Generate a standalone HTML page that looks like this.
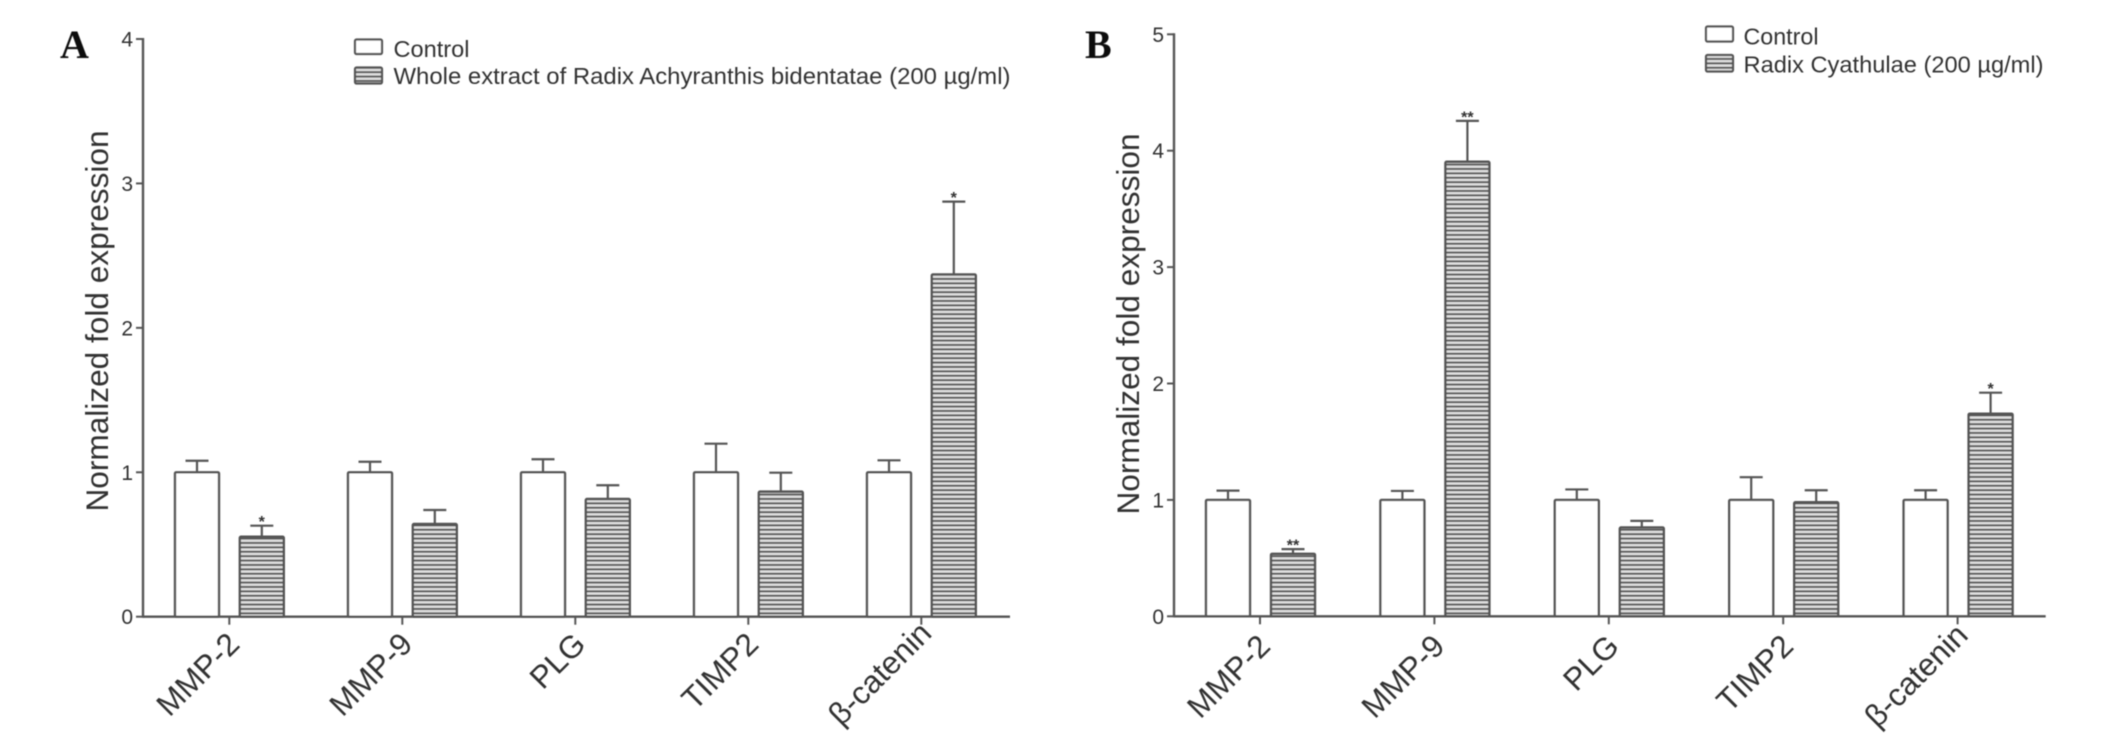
<!DOCTYPE html>
<html lang="en">
<head>
<meta charset="utf-8">
<title>Normalized fold expression: panels A and B</title>
<style>
  html, body { margin: 0; padding: 0; background: #fff; }
  svg { display: block; }
  text { font-family: "Liberation Sans", sans-serif; fill: #333; }
  .panel-letter { font-family: "Liberation Serif", serif; font-weight: bold; font-size: 40px; fill: #111; }
  .legend-text { font-size: 23.2px; }
</style>
</head>
<body>
<svg id="figure" xmlns="http://www.w3.org/2000/svg" width="2126" height="740" viewBox="0 0 2126 740">
  <defs>
    <pattern id="hatch" patternUnits="userSpaceOnUse" width="8" height="4.4">
      <rect width="8" height="4.4" fill="#e2e2e2"></rect>
      <rect y="0.8" width="8" height="1.9" fill="#505050"></rect>
    </pattern>
    <filter id="soft" x="-2%" y="-2%" width="104%" height="104%">
      <feGaussianBlur stdDeviation="0.6"></feGaussianBlur>
    </filter>
  </defs>
  <rect width="2126" height="740" fill="#fff"></rect>
  <g id="root" filter="url(#soft)">
    <text class="panel-letter" x="60" y="58">A</text>
    <text class="panel-letter" x="1085" y="58">B</text>

    <g>
      <rect x="355" y="39.5" width="27" height="14.5" rx="1.5" fill="#fff" stroke="#555" stroke-width="2.2"></rect>
      <text class="legend-text" x="393.5" y="57" textLength="76" lengthAdjust="spacingAndGlyphs">Control</text>
      <rect x="355" y="67.5" width="27" height="16" rx="1.5" fill="url(#hatch)" stroke="#555" stroke-width="2.2"></rect>
      <text class="legend-text" x="393.5" y="84" textLength="617" lengthAdjust="spacingAndGlyphs">Whole extract of Radix Achyranthis bidentatae (200 µg/ml)</text>
    </g>

    <g>
      <rect x="1706" y="26.5" width="27" height="15" rx="1.5" fill="#fff" stroke="#555" stroke-width="2.2"></rect>
      <text class="legend-text" x="1743.5" y="44.3" textLength="75" lengthAdjust="spacingAndGlyphs">Control</text>
      <rect x="1706" y="55" width="27" height="16.5" rx="1.5" fill="url(#hatch)" stroke="#555" stroke-width="2.2"></rect>
      <text class="legend-text" x="1743.5" y="72.3" textLength="300" lengthAdjust="spacingAndGlyphs">Radix Cyathulae (200 µg/ml)</text>
    </g>
  </g>
</svg>
<script>
const categories = ['MMP-2', 'MMP-9', 'PLG', 'TIMP2', 'β-catenin'];

const yTicksA = [0, 1, 2, 3, 4];
const controlMeansA = [1, 1, 1, 1, 1];
const controlErrorsA = [0.08, 0.073, 0.09, 0.198, 0.083];
const treatedMeansA = [0.554, 0.642, 0.815, 0.866, 2.37];
const treatedErrorsA = [0.076, 0.097, 0.095, 0.131, 0.504];
const significanceA = ['*', '', '', '', '*'];

const yTicksB = [0, 1, 2, 3, 4, 5];
const controlMeansB = [1, 1, 1, 1, 1];
const controlErrorsB = [0.08, 0.077, 0.09, 0.195, 0.083];
const treatedMeansB = [0.537, 3.905, 0.763, 0.98, 1.741];
const treatedErrorsB = [0.04, 0.351, 0.057, 0.103, 0.18];
const significanceB = ['**', '**', '', '', '*'];

const SVG_NS = 'http://www.w3.org/2000/svg';
const root = document.getElementById('root');
const LINE = '#555';

function make(tag, attrs, parent) {
  const el = document.createElementNS(SVG_NS, tag);
  Object.keys(attrs).forEach(function (k) { el.setAttribute(k, attrs[k]); });
  parent.appendChild(el);
  return el;
}

function drawBar(g, cx, top, base, halfWidth, fill, name) {
  const bar = make('rect', {
    x: cx - halfWidth, y: top, width: halfWidth * 2, height: base - top,
    rx: 1.2, fill: fill, stroke: LINE, 'stroke-width': 2.4
  }, g);
  
  
}

function drawError(g, cx, top, cap, name) {
  const stem = make('line', { x1: cx, x2: cx, y1: top, y2: cap, stroke: LINE, 'stroke-width': 2.2 }, g);
  
  
  const whisker = make('line', { x1: cx - 11.5, x2: cx + 11.5, y1: cap, y2: cap, stroke: LINE, 'stroke-width': 2.2 }, g);
  
  
}

function drawPanel(p) {
  const g = make('g', {}, root);
  
  

  const yMax = p.yTicks[p.yTicks.length - 1];
  const y = function (v) { return p.baseY - (v / yMax) * (p.baseY - p.topY); };
  const x = function (i) { return p.firstX + i * p.stepX; };

  const title = make('text', {
    transform: 'translate(' + p.titleX + ',' + p.titleY + ') rotate(-90)',
    'text-anchor': 'middle', 'font-size': 31.6
  }, g);
  
  
  title.textContent = 'Normalized fold expression';

  categories.forEach(function (cat, i) {
    const cCx = x(i) + p.controlOffset;
    const tCx = x(i) + p.treatedOffset;
    const cTop = y(p.controlMeans[i]);
    const tTop = y(p.treatedMeans[i]);
    const cCap = y(p.controlMeans[i] + p.controlErrors[i]);
    const tCap = y(p.treatedMeans[i] + p.treatedErrors[i]);

    drawError(g, cCx, cTop, cCap, p.id + '-control-error-' + i);
    drawBar(g, cCx, cTop, p.baseY, 22, '#fff', p.id + '-control-bar-' + i);
    drawError(g, tCx, tTop, tCap, p.id + '-treated-error-' + i);
    drawBar(g, tCx, tTop, p.baseY, 22, 'url(#hatch)', p.id + '-treated-bar-' + i);

    if (p.significance[i]) {
      const star = make('text', {
        x: tCx, y: tCap - 8 + 9.4, 'text-anchor': 'middle',
        'font-size': 16, 'font-weight': 'bold', fill: '#222'
      }, g);
      
      
      star.textContent = p.significance[i];
    }

    const tick = make('line', { x1: x(i), x2: x(i), y1: p.baseY, y2: p.baseY + 8, stroke: LINE, 'stroke-width': 2 }, g);
    
    

    const lx = x(i) + 12;
    const ly = p.labelY - (cat === 'β-catenin' ? 11 : 0);
    const label = make('text', {
      transform: 'translate(' + lx + ',' + ly + ') rotate(-45)',
      'text-anchor': 'end', 'font-size': 31.5
    }, g);
    
    
    label.textContent = cat;
  });

  const yAxis = make('line', { x1: p.axisX, x2: p.axisX, y1: y(yMax) - 1, y2: p.baseY + 1, stroke: LINE, 'stroke-width': 2.4 }, g);
  
  

  const xAxis = make('line', { x1: p.axisX, x2: p.axisEnd, y1: p.baseY, y2: p.baseY, stroke: LINE, 'stroke-width': 2.4 }, g);
  
  

  p.yTicks.forEach(function (v) {
    const tick = make('line', { x1: p.axisX - 7, x2: p.axisX, y1: y(v), y2: y(v), stroke: LINE, 'stroke-width': 2 }, g);
    
    
    const label = make('text', { x: p.axisX - 10, y: y(v) + 7.5, 'text-anchor': 'end', 'font-size': 21 }, g);
    
    
    label.textContent = String(v);
  });
}

drawPanel({
  id: 'panel-a', yTicks: yTicksA,
  controlMeans: controlMeansA, controlErrors: controlErrorsA,
  treatedMeans: treatedMeansA, treatedErrors: treatedErrorsA, significance: significanceA,
  axisX: 143, axisEnd: 1010, baseY: 616.7, topY: 39,
  firstX: 229.3, stepX: 173, controlOffset: -32.3, treatedOffset: 32.5,
  titleX: 108, titleY: 321, labelY: 646
});

drawPanel({
  id: 'panel-b', yTicks: yTicksB,
  controlMeans: controlMeansB, controlErrors: controlErrorsB,
  treatedMeans: treatedMeansB, treatedErrors: treatedErrorsB, significance: significanceB,
  axisX: 1174, axisEnd: 2045.7, baseY: 616.3, topY: 34.3,
  firstX: 1260, stepX: 174.4, controlOffset: -32, treatedOffset: 33,
  titleX: 1139, titleY: 324, labelY: 648
});
</script>
</body>
</html>
